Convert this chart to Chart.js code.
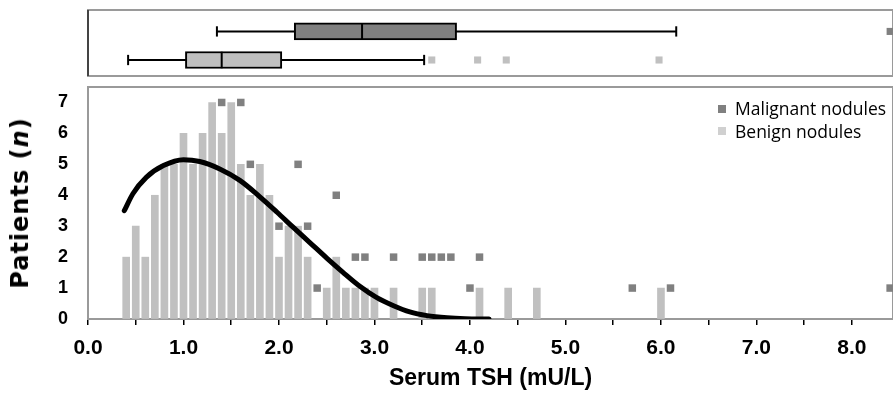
<!DOCTYPE html>
<html>
<head>
<meta charset="utf-8">
<script src="https://cdn.jsdelivr.net/npm/chart.js@4.4.0/dist/chart.umd.min.js"></script>
<style>
  body { margin: 0; background: #fff; }
  #page { position: relative; width: 893px; height: 394px; overflow: hidden; }
  #boxWrap { position: absolute; left: 0; top: 0; width: 893px; height: 80px; }
  #histWrap { position: absolute; left: 0; top: 80px; width: 893px; height: 314px; }
  #yTitle {
    position: absolute; left: 20px; top: 203px;
    transform: translate(-50%, -50%) rotate(-90deg);
    font: bold 24px 'DejaVu Sans', sans-serif; letter-spacing: 1px; white-space: nowrap; color: #000;
  }
  .leg { position: absolute; left: 735px; font: 17.5px 'Open Sans', sans-serif; line-height: 20px; white-space: nowrap; color: #000; }
  .sw { position: absolute; left: -17px; width: 8px; height: 8px; }
</style>
</head>
<body>
<div id="page">
  <div id="boxWrap"><canvas id="box"></canvas></div>
  <div id="histWrap"><canvas id="hist"></canvas></div>
  <div id="yTitle">Patients (<i>n</i>)</div>
  <div class="leg" style="top:98px"><span class="sw" style="top:7px;background:#808080"></span>Malignant nodules</div>
  <div class="leg" style="top:121px"><span class="sw" style="top:6px;background:#d0d0d0"></span>Benign nodules</div>
</div>
<script>
// benign nodules: histogram of serum TSH, 0.1 mU/L bins
const benignTsh    = [0.4, 0.5, 0.6, 0.7, 0.8, 0.9, 1.0, 1.1, 1.2, 1.3, 1.4, 1.5, 1.6, 1.7, 1.8, 1.9, 2.0, 2.1, 2.2, 2.3, 2.5, 2.6, 2.7, 2.8, 2.9, 3.0, 3.2, 3.5, 3.6, 4.1, 4.4, 4.7, 6.0];
const benignCounts = [2,   3,   2,   4,   5,   5,   6,   5,   6,   7,   6,   7,   5,   4,   5,   4,   2,   3,   3,   2,   1,   2,   1,   1,   1,   1,   1,   1,   1,   1,   1,   1,   1];

// malignant nodules: shown as markers
const malignantTsh    = [1.4, 1.6, 1.7, 2.0, 2.2, 2.3, 2.4, 2.6, 2.8, 2.9, 3.2, 3.5, 3.6, 3.7, 3.8, 4.0, 4.1, 5.7, 6.1, 8.4];
const malignantCounts = [7,   7,   5,   3,   5,   3,   1,   4,   2,   2,   2,   2,   2,   2,   2,   1,   2,   1,   1,   1];

// fitted curve
const curveX = [0.38, 0.47, 0.61, 0.79, 1.0, 1.17, 1.38, 1.59, 1.80, 1.98, 2.15, 2.32, 2.50, 2.67, 2.85, 3.02, 3.20, 3.37, 3.55, 3.76, 3.95, 4.2];
const curveY = [3.50, 4.05, 4.58, 4.96, 5.15, 5.09, 4.85, 4.48, 3.95, 3.45, 2.96, 2.48, 1.97, 1.51, 1.05, 0.70, 0.43, 0.23, 0.11, 0.04, 0.01, 0];

// box plots: [min, q1, median, q3, max]
const boxGroups   = ['Malignant nodules', 'Benign nodules'];
const boxStats    = [[1.35, 2.16, 2.87, 3.86, 6.16], [0.42, 1.02, 1.40, 2.03, 3.52]];
const boxOutliers = [[8.4], [3.6, 4.08, 4.38, 5.98]];
const boxColors   = ['#808080', '#c0c0c0'];

const xTicks = [0, 1, 2, 3, 4, 5, 6, 7, 8];
const yTicks = [0, 1, 2, 3, 4, 5, 6, 7];

const X_MAX = 8.43;
const boxRow = [2, 1];   // y position of each box in the top panel

// grey frame round the plot area
const framePlugin = {
  id: 'frame',
  beforeDatasetsDraw(chart, args, opts) {
    const a = chart.chartArea, ctx = chart.ctx;
    ctx.save();
    ctx.strokeStyle = '#9a9a9a';
    ctx.lineWidth = 2;
    ctx.strokeRect(a.left, a.top, a.right - a.left, a.bottom - a.top);
    if (opts.leftColor) {
      ctx.strokeStyle = opts.leftColor;
      ctx.beginPath();
      ctx.moveTo(a.left, a.top);
      ctx.lineTo(a.left, a.bottom);
      ctx.stroke();
    }
    ctx.restore();
  }
};

// ---- top panel: box plots ----
const boxDatasets = [];
boxStats.forEach((s, i) => {
  const y = boxRow[i];
  boxDatasets.push({
    type: 'line', data: [{x: s[2], y: y - 0.29}, {x: s[2], y: y + 0.29}],
    borderColor: '#000', borderWidth: 2, pointRadius: 0, order: 0
  });
  boxDatasets.push({
    type: 'line', data: [{x: s[0], y: y}, {x: s[4], y: y}],
    borderColor: '#000', borderWidth: 2, pointRadius: 0, order: 3
  });
  [s[0], s[4]].forEach(v => boxDatasets.push({
    type: 'line', data: [{x: v, y: y - 0.18}, {x: v, y: y + 0.18}],
    borderColor: '#000', borderWidth: 2, pointRadius: 0, order: 3
  }));
  boxDatasets.push({
    type: 'scatter', data: boxOutliers[i].map(v => ({x: v, y: y})),
    pointStyle: 'rect', pointRadius: 5, backgroundColor: boxColors[i], borderWidth: 0, order: 2
  });
});
boxDatasets.push({
  type: 'bar',
  data: boxStats.map((s, i) => ({x: [s[1], s[3]], y: boxRow[i]})),
  backgroundColor: boxColors, borderColor: '#000', borderWidth: 2, borderSkipped: false,
  barThickness: 17, order: 1
});

new Chart(document.getElementById('box'), {
  type: 'bar',
  data: { datasets: boxDatasets },
  options: {
    indexAxis: 'y',
    responsive: true, maintainAspectRatio: false, animation: false,
    layout: { autoPadding: false, padding: { left: 88, top: 10, bottom: 4, right: 0 } },
    plugins: { legend: { display: false }, tooltip: { enabled: false }, frame: { leftColor: '#444' } },
    scales: {
      x: { type: 'linear', min: 0, max: X_MAX, display: false, offset: false },
      y: { type: 'linear', min: 0.44, max: 2.75, display: false, offset: false }
    }
  },
  plugins: [framePlugin]
});

// ---- bottom panel: histogram ----
const tickFont = { family: "'Liberation Sans', Arial, sans-serif", weight: 'bold' };

new Chart(document.getElementById('hist'), {
  type: 'bar',
  data: {
    datasets: [
      {
        type: 'scatter', label: 'Malignant nodules',
        data: malignantTsh.map((x, i) => ({x: x, y: malignantCounts[i]})),
        pointStyle: 'rect', pointRadius: 5.3, backgroundColor: '#808080', borderWidth: 0, order: 0
      },
      {
        type: 'line', label: 'Fit',
        data: curveX.map((x, i) => ({x: x, y: curveY[i]})),
        borderColor: '#000', borderWidth: 5, pointRadius: 0, cubicInterpolationMode: 'monotone',
        borderCapStyle: 'round', order: 1
      },
      {
        type: 'bar', label: 'Benign nodules',
        data: benignTsh.map((x, i) => ({x: x, y: benignCounts[i]})),
        backgroundColor: '#c0c0c0', barThickness: 7, order: 2
      }
    ]
  },
  options: {
    responsive: true, maintainAspectRatio: false, animation: false,
    layout: { autoPadding: false, padding: { left: 0, top: 7, right: 0, bottom: 0 } },
    plugins: { legend: { display: false }, tooltip: { enabled: false }, frame: {} },
    scales: {
      x: {
        type: 'linear', min: 0, max: X_MAX, offset: false,
        afterBuildTicks: s => {
          s.ticks = [];
          for (let v = 0; v <= 8; v += 0.5) s.ticks.push({ value: v });
        },
        afterFit: s => { s.height = 75; s.paddingLeft = 0; s.paddingRight = 0; },
        ticks: {
          autoSkip: false, maxRotation: 0, padding: 11, color: '#000',
          font: Object.assign({ size: 21 }, tickFont),
          callback: v => (xTicks.includes(v) ? v.toFixed(1) : '')
        },
        grid: { drawOnChartArea: false, offset: false, color: '#000', tickLength: 6, lineWidth: 1.5 },
        border: { color: '#000', width: 1.5 },
        title: {
          display: true, text: 'Serum TSH (mU/L)', color: '#000',
          font: Object.assign({ size: 23 }, tickFont), padding: { top: 0, bottom: 2 }
        }
      },
      y: {
        type: 'linear', min: 0, max: 7.5,
        afterBuildTicks: s => { s.ticks = yTicks.map(v => ({ value: v })); },
        afterFit: s => { s.width = 88; s.paddingTop = 0; s.paddingBottom = 0; },
        ticks: { padding: 20, color: '#000', font: Object.assign({ size: 18 }, tickFont) },
        grid: { drawOnChartArea: false, drawTicks: false },
        border: { color: '#000', width: 1.5 }
      }
    }
  },
  plugins: [framePlugin]
});
</script>
</body>
</html>
